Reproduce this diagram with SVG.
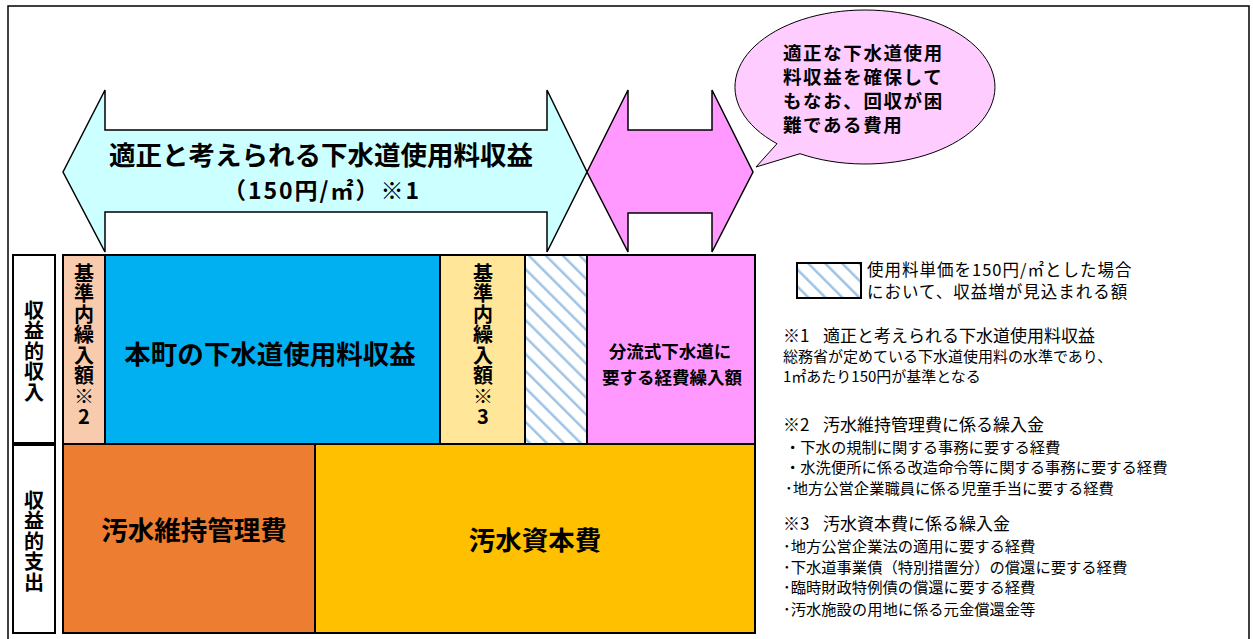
<svg xmlns="http://www.w3.org/2000/svg" width="1253" height="639" viewBox="0 0 1253 639">
<defs>
<style>
.box{stroke:#000;stroke-width:2}
.arrow{stroke:#000;stroke-width:1.5;stroke-linejoin:miter}
.b{font-family:"Noto Sans CJK JP","Noto Sans CJK SC",sans-serif;font-weight:bold;fill:#000}
.n{font-family:"Noto Sans CJK JP","Noto Sans CJK SC",sans-serif;font-weight:normal;fill:#000}
.v{writing-mode:vertical-rl;text-orientation:upright;letter-spacing:0.5px}
</style>
<pattern id="hatch" patternUnits="userSpaceOnUse" width="12" height="12" patternTransform="rotate(-45)">
<rect width="12" height="12" fill="#fff"/>
<rect x="0" y="0" width="2.5" height="12" fill="#9DC3E6"/>
</pattern>
</defs>
<rect width="1253" height="639" fill="#fff"/>
<rect id="frame" x="8" y="6" width="1241" height="640" fill="none" stroke="#000" stroke-width="1.5"/>

<g id="connectors">
<polygon id="arrow-appropriate" class="arrow" fill="#CCFFFF" points="63,172 105,90 105,130 547,130 547,90 587,172 547,252 547,212 105,212 105,252"/>
<polygon id="arrow-hard" class="arrow" fill="#FF99FF" points="587,172 628,90 628,130 712,130 712,90 753,172 712,252 712,213 628,213 628,252"/>
</g>
<g id="arrow-label">
<text class="b" x="321" y="165" font-size="26.5" text-anchor="middle">適正と考えられる下水道使用料収益</text>
<text class="b" x="322" y="199" font-size="23" letter-spacing="2" text-anchor="middle">（150円/㎡）※1</text>
</g>

<g id="bubble">
<path d="M 800,153.7 A 130 77 0 1 0 777,143.7 L 756,167 Z" fill="#FFCCFF" stroke="#000" stroke-width="1"/>
<text class="b" x="783" y="59.5" font-size="18.5" letter-spacing="1.6">適正な下水道使用</text>
<text class="b" x="783" y="83.5" font-size="18.5" letter-spacing="1.6">料収益を確保して</text>
<text class="b" x="783" y="107.5" font-size="18.5" letter-spacing="1.6">もなお、回収が困</text>
<text class="b" x="783" y="131.5" font-size="18.5" letter-spacing="1.6">難である費用</text>
</g>

<g id="label-income">
<rect class="box" x="13" y="255" width="42" height="188" fill="#fff"/>
<text class="b v" x="34" y="300" font-size="20">収益的収入</text>
</g>
<g id="label-expense">
<rect class="box" x="13" y="445" width="42" height="188" fill="#fff"/>
<text class="b v" x="34" y="490" font-size="20">収益的支出</text>
</g>

<g id="kijun2">
<rect class="box" x="63" y="255" width="42" height="189" fill="#F8CBAD"/>
<text class="b v" x="84" y="263" font-size="20">基準内繰入額※2</text>
</g>
<g id="honcho">
<rect class="box" x="105" y="255" width="335" height="189" fill="#00B0F0"/>
<text class="b" x="270" y="364" font-size="26.5" text-anchor="middle">本町の下水道使用料収益</text>
</g>
<g id="kijun3">
<rect class="box" x="440" y="255" width="85" height="189" fill="#FFE699"/>
<text class="b v" x="483" y="263" font-size="20">基準内繰入額※3</text>
</g>
<g id="hatched">
<rect class="box" x="525" y="255" width="62" height="189" fill="url(#hatch)"/>
</g>
<g id="bunryu">
<rect class="box" x="587" y="255" width="168" height="189" fill="#FF99FF"/>
<text class="b" font-size="17.5" text-anchor="middle">
<tspan x="672" y="358">分流式下水道に</tspan>
<tspan x="672" y="384">要する経費繰入額</tspan>
</text>
</g>
<g id="iji">
<rect class="box" x="63" y="444" width="252" height="189" fill="#ED7D31"/>
<text class="b" x="194" y="540" font-size="26.5" text-anchor="middle">汚水維持管理費</text>
</g>
<g id="shihon">
<rect class="box" x="315" y="444" width="440" height="189" fill="#FFC000"/>
<text class="b" x="535" y="550" font-size="26.5" text-anchor="middle">汚水資本費</text>
</g>

<g id="legend">
<rect class="box" x="797" y="263" width="64" height="35" fill="url(#hatch)"/>
<text class="n" x="867" y="276" font-size="16.5" letter-spacing="1">使用料単価を150円/㎡とした場合</text>
<text class="n" x="867" y="298" font-size="16.5" letter-spacing="1">において、収益増が見込まれる額</text>
</g>

<g id="notes">
<text class="n" y="342" font-size="17"><tspan x="783">※1</tspan><tspan x="823">適正と考えられる下水道使用料収益</tspan></text>
<text class="n" x="783" y="362" font-size="15">総務省が定めている下水道使用料の水準であり、</text>
<text class="n" x="783" y="382" font-size="15">1㎡あたり150円が基準となる</text>
<text class="n" y="431" font-size="17"><tspan x="783">※2</tspan><tspan x="823">汚水維持管理費に係る繰入金</tspan></text>
<text class="n" x="785" y="453" font-size="15.3">・下水の規制に関する事務に要する経費</text>
<text class="n" x="785" y="473" font-size="15.3">・水洗便所に係る改造命令等に関する事務に要する経費</text>
<text class="n" x="785" y="494" font-size="15.3">･地方公営企業職員に係る児童手当に要する経費</text>
<text class="n" y="530" font-size="17"><tspan x="783">※3</tspan><tspan x="823">汚水資本費に係る繰入金</tspan></text>
<text class="n" x="783" y="552" font-size="15.3">･地方公営企業法の適用に要する経費</text>
<text class="n" x="783" y="573" font-size="15.3">･下水道事業債（特別措置分）の償還に要する経費</text>
<text class="n" x="783" y="593" font-size="15.3">･臨時財政特例債の償還に要する経費</text>
<text class="n" x="783" y="615" font-size="15.3">･汚水施設の用地に係る元金償還金等</text>
</g>
</svg>
